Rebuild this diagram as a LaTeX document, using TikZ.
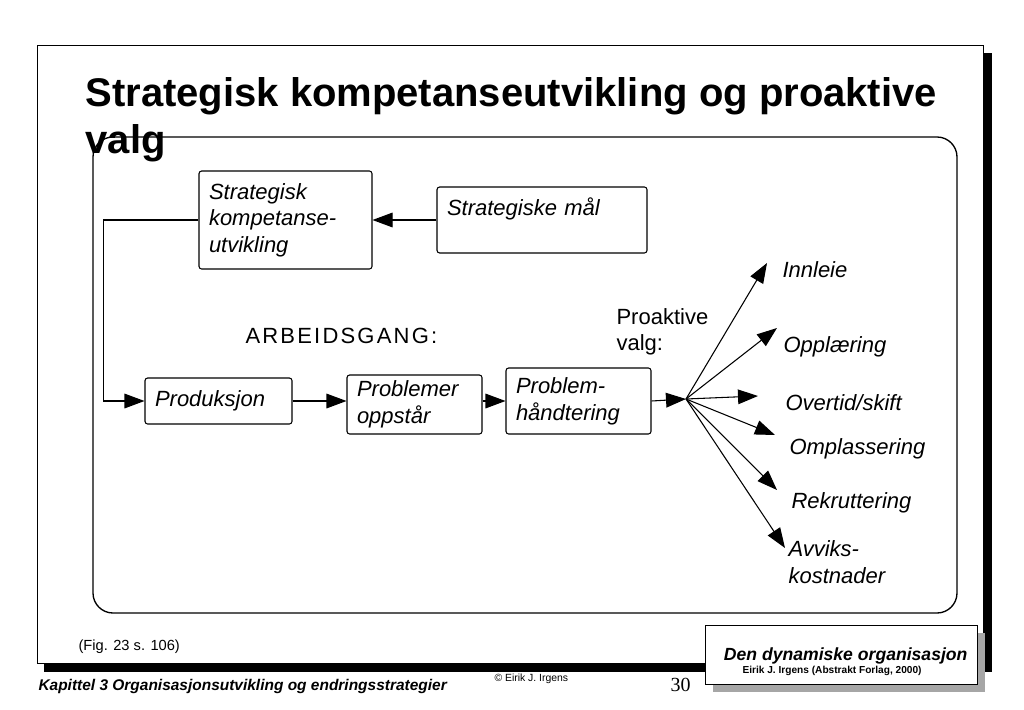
\documentclass[tikz,border=0pt]{standalone}
\usepackage{fontspec}
\setmainfont{Liberation Sans}
\newfontfamily\numfont{Liberation Serif}
\usetikzlibrary{arrows.meta}

\begin{document}
\begin{tikzpicture}[x=0.75pt,y=-0.75pt,line width=0.8pt,>={Triangle[length=15pt,width=11pt]},
  box/.style={draw,rounded corners=2pt,inner xsep=7.5pt,align=left,font=\fontsize{16.5}{20}\selectfont\itshape},
  choice/.style={anchor=base west,align=left,font=\fontsize{16.5}{20}\selectfont\itshape}]
\useasboundingbox (0,0) rectangle (1024,710);
\fill[black] (44,53) rectangle (992,672); \draw[fill=white,line width=0.5pt] (37,45) rectangle (983,663);
\draw[line width=1pt,rounded corners=15pt] (93,137) rectangle (957,613);
\node[anchor=base west,align=left,font=\fontsize{30}{35}\selectfont\bfseries,inner sep=0pt] (title) at (85,153) {Strategisk kompetanseutvikling og proaktive\\valg};
\node[box,minimum width=129.75pt,minimum height=73.5pt,text width=114.75pt] (komp) at (285.5,220) {Strategisk\\kompetanse-\\utvikling};
\node[box,minimum width=157.5pt,minimum height=49.5pt,text width=142.5pt,text depth=20pt] (maal) at (542,220) {Strategiske mål};
\node[box,minimum width=110.25pt,minimum height=34.5pt,text width=95.25pt] (prod) at (218.5,401) {Produksjon};
\node[box,minimum width=101.25pt,minimum height=44.25pt,text width=86.25pt] (oppst) at (414.5,404.5) {Problemer\\oppstår};
\node[box,minimum width=108.75pt,minimum height=49.5pt,text width=93.75pt] (handt) at (578.5,401) {Problem-\\håndtering};
\node[anchor=base west,inner sep=0pt,font=\fontsize{16.5}{20}\selectfont\addfontfeatures{LetterSpace=10}] (gang) at (245,343) {ARBEIDSGANG:};
\node[anchor=base west,inner sep=0pt,align=left,font=\fontsize{16.5}{19}\selectfont] (proakt) at (616,350) {Proaktive\\valg:};
\coordinate (fan) at (686,399);
\draw[->] (maal) -- (komp);
\draw[->] (komp.west) -- ++(-95,0) |- (prod.west);
\draw[->] (prod.east) -- (prod.east -| oppst.west); \draw[->] (oppst.east |- handt) -- (handt.west); \draw[->] (handt.east) -- (fan);
\foreach \n/\tx/\ty/\lx/\ly/\txt in {innleie/767/263/782/277/Innleie,opplaer/777/328/783/352/Opplæring,overtid/758/396/785/410/{Overtid/skift},omplass/775/435/789/454/Omplassering,rekrutt/777/490/791/508/Rekruttering,avvik/785/548/788/583/{Avviks-\\kostnader}}{
  \coordinate (\n) at (\tx,\ty);
  \draw[->] (fan) -- (\n);
  \node[choice,inner sep=0pt] (lbl-\n) at (\lx,\ly) {\txt};
}
\node[anchor=base west,inner sep=0pt,font=\fontsize{11}{13}\selectfont] (fig) at (78,650) {(Fig. 23 s. 106)};
\node[anchor=base west,inner sep=0pt,font=\fontsize{11.6}{13}\selectfont\bfseries\itshape] (kap) at (38,690) {Kapittel 3 Organisasjonsutvikling og endringsstrategier};
\node[anchor=base west,inner sep=0pt,font=\fontsize{7.8}{9}\selectfont] (copy) at (494,681) {© Eirik J. Irgens};
\node[anchor=base west,inner sep=0pt,font=\fontsize{15}{18}\selectfont\numfont] (page) at (670,691) {30};
\fill[gray!70] (713,633) rectangle (985,692); \draw[fill=white,line width=0.6pt] (705,625) rectangle (977,684);
\node[anchor=base east,inner sep=0pt,font=\fontsize{13.2}{15}\selectfont\bfseries\itshape] (book) at (968,660) {Den dynamiske organisasjon};
\node[anchor=base west,inner sep=0pt,font=\fontsize{7.6}{9}\selectfont\bfseries] (pub) at (742,673) {Eirik J. Irgens (Abstrakt Forlag, 2000)};
\end{tikzpicture}
\end{document}
